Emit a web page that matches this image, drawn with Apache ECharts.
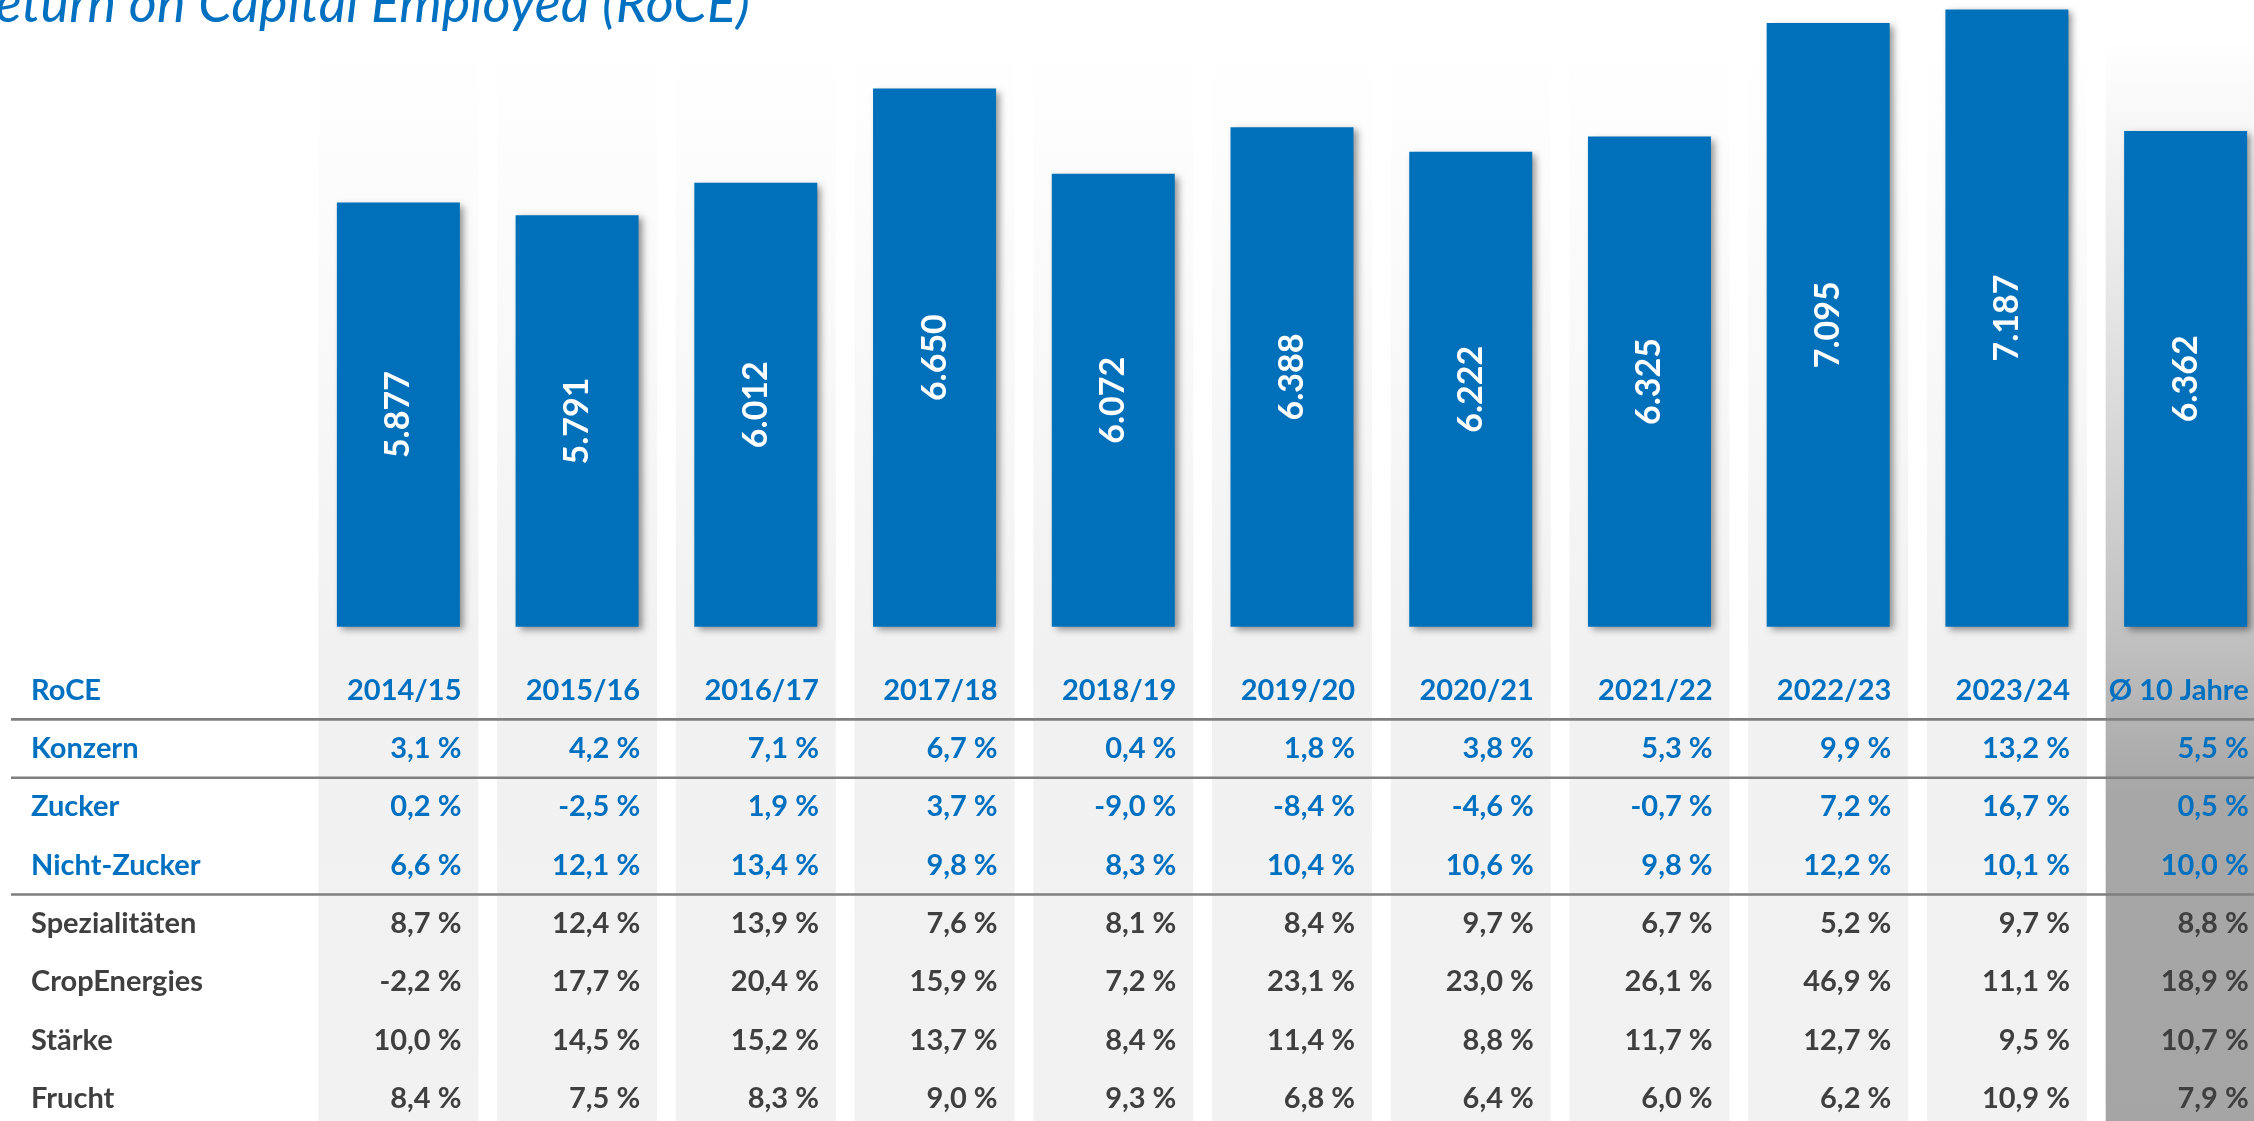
<!DOCTYPE html>
<html>
<head>
<meta charset="utf-8">
<script src="https://cdn.jsdelivr.net/npm/echarts@6/dist/echarts.min.js"></script>
<style>
  html, body { margin: 0; padding: 0; background: #ffffff; overflow: hidden; }
  /* The drawing runs slightly past the right and bottom page edges, where the last column is cut off */
  #chart { width: 2290px; height: 1132px; }
</style>
</head>
<body>
<div id="chart"></div>
<script>
// Fiscal years plus the ten-year average column
const categories = ['2014/15', '2015/16', '2016/17', '2017/18', '2018/19', '2019/20', '2020/21', '2021/22', '2022/23', '2023/24', 'Ø 10 Jahre'];
// Capital employed (Mio. €), shown as bars
const capitalEmployed = [5877, 5791, 6012, 6650, 6072, 6388, 6222, 6325, 7095, 7187, 6362];

// RoCE table rows (%)
const rowLabels = ['RoCE', 'Konzern', 'Zucker', 'Nicht-Zucker', 'Spezialitäten', 'CropEnergies', 'Stärke', 'Frucht'];
const roceKonzern = [3.1, 4.2, 7.1, 6.7, 0.4, 1.8, 3.8, 5.3, 9.9, 13.2, 5.5];
const roceZucker = [0.2, -2.5, 1.9, 3.7, -9.0, -8.4, -4.6, -0.7, 7.2, 16.7, 0.5];
const roceNichtZucker = [6.6, 12.1, 13.4, 9.8, 8.3, 10.4, 10.6, 9.8, 12.2, 10.1, 10.0];
const roceSpezialitaeten = [8.7, 12.4, 13.9, 7.6, 8.1, 8.4, 9.7, 6.7, 5.2, 9.7, 8.8];
const roceCropEnergies = [-2.2, 17.7, 20.4, 15.9, 7.2, 23.1, 23.0, 26.1, 46.9, 11.1, 18.9];
const roceStaerke = [10.0, 14.5, 15.2, 13.7, 8.4, 11.4, 8.8, 11.7, 12.7, 9.5, 10.7];
const roceFrucht = [8.4, 7.5, 8.3, 9.0, 9.3, 6.8, 6.4, 6.0, 6.2, 10.9, 7.9];

const BLUE = '#0070C0';
const BAR_BLUE = '#0070BA';
const GREY_TEXT = '#3f3f3f';
const FONT = 'Lato, "Open Sans", sans-serif';

const pct = v => v.toFixed(1).replace('.', ',') + ' %';
const thousands = v => (v / 1000).toFixed(3);

// Table cells: header row holds the column titles, then one row per segment
const valueRows = [roceKonzern, roceZucker, roceNichtZucker, roceSpezialitaeten, roceCropEnergies, roceStaerke, roceFrucht];
const cellData = [];
const cellText = [];
categories.forEach((c, col) => { cellData.push([col, 0]); cellText.push(c); });
valueRows.forEach((vals, r) => {
  vals.forEach((v, col) => { cellData.push([col, r + 1]); cellText.push(pct(v)); });
});
// Separator lines sit below these rows
const separatorRows = [0, 1, 3];

const chart = echarts.init(document.getElementById('chart'), null, { renderer: 'canvas' });

const GRID_LEFT = 309;
const GRID_WIDTH = 1966;

chart.setOption({
  animation: false,
  backgroundColor: '#ffffff',
  graphic: [{
    type: 'text',
    z: 10,
    style: {
      x: 750,
      y: 32,
      text: 'Return on Capital Employed (RoCE)',
      fill: BLUE,
      font: 'italic 400 54px ' + FONT,
      align: 'right',
      verticalAlign: 'bottom'
    }
  }],
  grid: [
    { left: GRID_LEFT, width: GRID_WIDTH, top: 7.5, height: 619.2 },
    { left: GRID_LEFT, width: GRID_WIDTH, top: 661, height: 467 }
  ],
  xAxis: [
    { type: 'category', gridIndex: 0, data: categories, show: false },
    { type: 'category', gridIndex: 1, data: categories, show: false }
  ],
  yAxis: [
    { type: 'value', gridIndex: 0, min: 3000, max: 7200, show: false },
    {
      type: 'category', gridIndex: 1, data: rowLabels, inverse: true,
      axisLine: { show: false }, axisTick: { show: false }, splitLine: { show: false },
      axisLabel: {
        align: 'left',
        margin: GRID_LEFT - 31,
        fontFamily: FONT,
        fontWeight: 'bold',
        fontSize: 29,
        color: (val, idx) => (idx <= 3 ? BLUE : GREY_TEXT)
      }
    }
  ],
  series: [
    {
      // Column background bands
      type: 'custom',
      xAxisIndex: 0, yAxisIndex: 0,
      z: 0,
      silent: true,
      clip: false,
      data: categories.map((c, i) => [i]),
      renderItem: (params, api) => {
        const i = api.value(0);
        const cx = api.coord([i, 3000])[0];
        const w = api.size([1, 0])[0] * 0.895;
        const top = 40;
        const h = api.getHeight() - top;
        const isAvg = i === categories.length - 1;
        const stops = isAvg
          ? [{ offset: 0, color: '#ffffff' }, { offset: 0.24, color: '#e6e6e6' },
             { offset: 0.545, color: '#c1c1c1' }, { offset: 0.69, color: '#a7a7a7' },
             { offset: 1, color: '#a5a5a5' }]
          : [{ offset: 0, color: '#ffffff' }, { offset: 0.3, color: '#f8f8f8' },
             { offset: 0.56, color: '#f1f1f1' }, { offset: 1, color: '#f2f2f2' }];
        return {
          type: 'rect',
          shape: { x: cx - w / 2, y: top, width: w, height: h },
          style: { fill: new echarts.graphic.LinearGradient(0, 0, 0, 1, stops) }
        };
      }
    },
    {
      type: 'bar',
      xAxisIndex: 0, yAxisIndex: 0,
      z: 2,
      data: capitalEmployed,
      barWidth: 123,
      itemStyle: {
        color: BAR_BLUE,
        shadowBlur: 7,
        shadowColor: 'rgba(0,0,0,0.42)',
        shadowOffsetX: 4,
        shadowOffsetY: 3
      },
      label: {
        show: true,
        position: 'inside',
        rotate: 90,
        color: '#ffffff',
        fontFamily: FONT,
        fontWeight: 'bold',
        fontSize: 34,
        formatter: p => thousands(p.value)
      }
    },
    {
      // Row separator lines
      type: 'custom',
      xAxisIndex: 1, yAxisIndex: 1,
      z: 3,
      silent: true,
      clip: false,
      data: separatorRows.map(r => [0, r]),
      renderItem: (params, api) => {
        const pt = api.coord([0, api.value(1)]);
        const rowH = api.size([0, 1])[1];
        const y = pt[1] + rowH / 2;
        return {
          type: 'line',
          shape: { x1: 11, y1: y, x2: api.getWidth(), y2: y },
          style: { stroke: '#7f7f7f', lineWidth: 2.6 }
        };
      }
    },
    {
      // Table cell texts, right-aligned inside each column band
      type: 'custom',
      xAxisIndex: 1, yAxisIndex: 1,
      z: 4,
      silent: true,
      clip: false,
      data: cellData,
      renderItem: (params, api) => {
        const row = api.value(1);
        const pt = api.coord([api.value(0), row]);
        const colW = api.size([1, 0])[0];
        return {
          type: 'text',
          x: pt[0] + colW * 0.353,
          y: pt[1],
          style: {
            text: cellText[params.dataIndex],
            fill: row <= 3 ? BLUE : GREY_TEXT,
            font: 'bold 29px ' + FONT,
            align: 'right',
            verticalAlign: 'middle'
          }
        };
      }
    }
  ]
});
</script>
</body>
</html>
